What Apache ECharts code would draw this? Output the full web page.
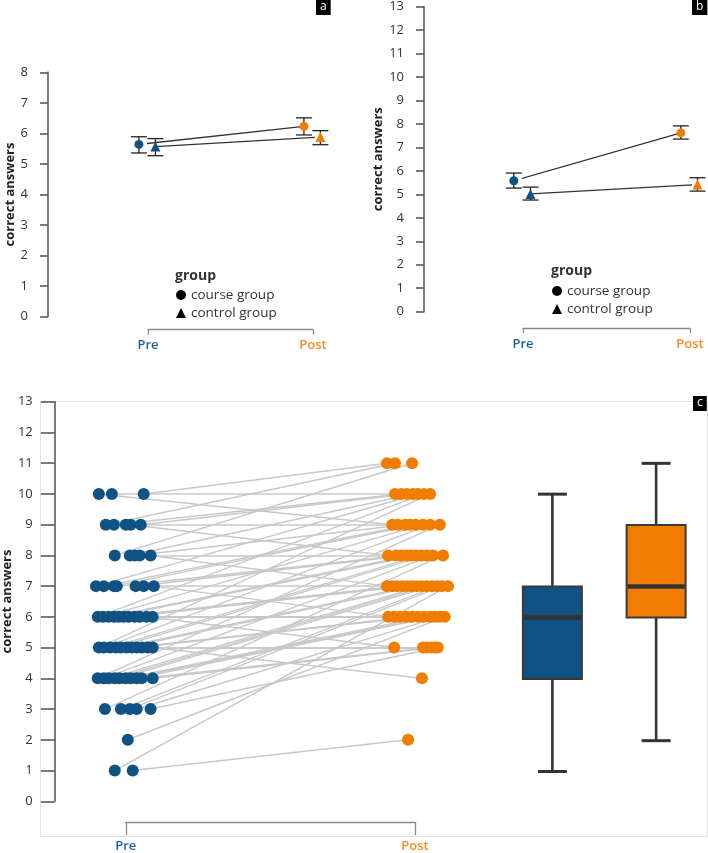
<!DOCTYPE html>
<html><head><meta charset="utf-8">
<script src="https://cdn.jsdelivr.net/npm/echarts@6/dist/echarts.min.js"></script>
<style>html,body{margin:0;padding:0;background:#fff}#c{width:708px;height:853px}</style>
</head><body><div id="c"></div>
<script>
const timepoints = ['Pre', 'Post'];
const groups = ['course group', 'control group'];
const yTitle = 'correct answers';

// Panel a: means with error bars
const aCourseMean = [5.64, 6.23];
const aCourseLow = [5.36, 5.95];
const aCourseHigh = [5.89, 6.51];
const aControlMean = [5.57, 5.88];
const aControlLow = [5.27, 5.63];
const aControlHigh = [5.83, 6.09];

// Panel b: means with error bars
const bCourseMean = [5.58, 7.62];
const bCourseLow = [5.27, 7.36];
const bCourseHigh = [5.91, 7.92];
const bControlMean = [5.02, 5.42];
const bControlLow = [4.76, 5.14];
const bControlHigh = [5.31, 5.71];

// Panel c: individual scores (pre -> post) with horizontal jitter
const preScore = [10,10,10, 9,9,9,9,9, 8,8,8,8,8, 7,7,7,7,7,7,7,
  6,6,6,6,6,6,6,6,6,6,6, 5,5,5,5,5,5,5,5,5,5,5, 4,4,4,4,4,4,4,4,4,4,
  3,3,3,3,3, 2, 1,1];
const postScore = [11,10,9, 11,10,9,8,10, 11,10,9,8,7, 10,9,9,8,8,7,6,
  10,9,8,8,7,7,7,6,6,5,6, 10,9,8,8,7,7,6,6,5,5,4, 9,8,7,7,7,6,6,6,5,5,
  8,7,7,6,5, 6, 7,2];
const preJitter = [0.062,-0.048,-0.093, -0.069,-0.041,0,0.017,0.052, -0.038,0.014,0.031,0.048,0.086,
  -0.103,-0.076,-0.041,-0.031,0.034,0.062,0.097,
  -0.097,-0.079,-0.059,-0.041,-0.024,-0.007,0.010,0.031,0.048,0.072,0.093,
  -0.093,-0.076,-0.055,-0.034,-0.017,0.003,0.021,0.038,0.055,0.076,0.093,
  -0.097,-0.076,-0.059,-0.038,-0.021,0,0.017,0.038,0.055,0.093,
  -0.072,-0.017,0.014,0.038,0.086, 0.007, -0.038,0.024];
const postJitter = [-0.097,-0.069,-0.079, -0.069,-0.048,-0.059,-0.093,-0.028, -0.010,-0.007,-0.034,-0.066,-0.097,
  0.010,-0.017,0.003,-0.048,-0.031,-0.079,-0.093,
  0.031,0.028,-0.014,0.003,-0.062,-0.045,-0.028,-0.072,-0.052,-0.072,-0.031,
  0.052,0.052,0.021,0.041,-0.010,0.007,-0.010,0.010,0.028,0.041,0.024,
  0.086,0.062,0.024,0.041,0.059,0.031,0.052,0.069,0.055,0.069,
  0.097,0.076,0.093,0.086,0.079, 0.103, 0.114,-0.024];

// Panel c boxplots: [min, Q1, median, Q3, max]
const boxPre = [1, 4, 6, 7, 10];
const boxPost = [2, 6, 7, 9, 11];

const BLUE = '#0f5384';
const ORANGE = '#f07d00';
const tpColor = [BLUE, ORANGE];
const FONT = 'Open Sans';
const dodge = [-0.055, 0.045];

const chart = echarts.init(document.getElementById('c'), null, {renderer: 'canvas'});

function xAxisFor(gi, offset, tickLen, margin) {
  return {
    type: 'value', gridIndex: gi, min: 0, max: 1, interval: 1, position: 'bottom', offset: offset,
    axisLine: {show: true, onZero: false, lineStyle: {color: '#8a8a8a', width: 1.3}},
    axisTick: {show: true, length: tickLen, lineStyle: {color: '#8a8a8a', width: 1.3}},
    splitLine: {show: false},
    axisLabel: {
      margin: margin, fontFamily: FONT, fontSize: 13,
      formatter: v => (v === 0 ? '{pre|' + timepoints[0] + '}' : '{post|' + timepoints[1] + '}'),
      rich: {
        pre: {color: '#1d5f96', fontWeight: 600, fontSize: 13, fontFamily: FONT},
        post: {color: '#f58a1f', fontWeight: 600, fontSize: 13, fontFamily: FONT}
      }
    }
  };
}
function yAxisFor(gi, max, offset, tickLen, margin, nameGap) {
  return {
    type: 'value', gridIndex: gi, min: 0, max: max, interval: 1, offset: offset, position: 'left',
    name: yTitle, nameLocation: 'middle', nameGap: nameGap,
    nameTextStyle: {fontFamily: FONT, fontSize: 13, fontWeight: 'bold', color: '#222'},
    axisLine: {show: true, onZero: false, lineStyle: {color: '#5a5a5a', width: 1.6}},
    axisTick: {show: true, length: tickLen, lineStyle: {color: '#5a5a5a', width: 1.6}},
    splitLine: {show: false},
    axisLabel: {margin: margin, fontFamily: FONT, fontSize: 13, color: '#333'}
  };
}

function errorSeries(gi, low, high, dx) {
  return {
    type: 'custom', xAxisIndex: gi, yAxisIndex: gi, z: 2, silent: true,
    data: timepoints.map((t, i) => [i + dx, low[i], high[i]]),
    renderItem: function (params, api) {
      const x = api.value(0);
      const pl = api.coord([x, api.value(1)]);
      const ph = api.coord([x, api.value(2)]);
      const hw = 8;
      const st = {stroke: '#222', lineWidth: 1.3};
      return {type: 'group', children: [
        {type: 'line', shape: {x1: pl[0], y1: pl[1], x2: ph[0], y2: ph[1]}, style: st},
        {type: 'line', shape: {x1: pl[0] - hw, y1: pl[1], x2: pl[0] + hw, y2: pl[1]}, style: st},
        {type: 'line', shape: {x1: ph[0] - hw, y1: ph[1], x2: ph[0] + hw, y2: ph[1]}, style: st}
      ]};
    }
  };
}
function meanSeries(gi, name, mean, dx, symbol, size) {
  return {
    type: 'line', name: name, xAxisIndex: gi, yAxisIndex: gi, z: 3, clip: false,
    symbol: symbol, symbolSize: size, showSymbol: true,
    itemStyle: {color: '#000'},
    lineStyle: {color: '#333', width: 1.3},
    data: timepoints.map((t, i) => ({value: [i + dx, mean[i]], itemStyle: {color: tpColor[i]}}))
  };
}

function legendFor(left, top) {
  return {
    left: left, top: top, orient: 'vertical', itemWidth: 10, itemHeight: 10, itemGap: 4,
    selectedMode: false, padding: 0,
    textStyle: {fontFamily: FONT, fontSize: 13.5, color: '#333'},
    data: [{name: groups[0], icon: 'circle'}, {name: groups[1], icon: 'triangle'}]
  };
}
function panelLabel(t, left, top) {
  return {text: t, left: left, top: top, padding: [1, 4, 2, 4], backgroundColor: '#000',
    textStyle: {color: '#fff', fontSize: 12, fontWeight: 'normal', fontFamily: FONT}};
}

const option = {
  animation: false,
  backgroundColor: '#fff',
  textStyle: {fontFamily: FONT},
  title: [
    {text: 'group', left: 175, top: 269, padding: 0, textStyle: {fontFamily: FONT, fontSize: 14, fontWeight: 'bold', color: '#333'}},
    {text: 'group', left: 551, top: 264, padding: 0, textStyle: {fontFamily: FONT, fontSize: 14, fontWeight: 'bold', color: '#333'}},
    panelLabel('a', 316, 0),
    panelLabel('b', 692, 0),
    panelLabel('c', 693, 396)
  ],
  legend: [legendFor(176, 288), legendFor(552, 284)],
  graphic: [
    {type: 'rect', z: -10, shape: {x: 40.5, y: 401.5, width: 667, height: 435}, style: {fill: null, stroke: '#e3e3e3', lineWidth: 1}}
  ],
  grid: [
    {left: 148, top: 72.3, width: 165, height: 244.4},
    {left: 523, top: 6.7, width: 167, height: 305},
    {left: 125, top: 401.7, width: 290, height: 400.6},
    {left: 500.5, top: 401.7, width: 234, height: 400.6}
  ],
  xAxis: [
    xAxisFor(0, 13, 5, 9),
    xAxisFor(1, 16.5, 5, 10),
    xAxisFor(2, 20.7, 13, 18),
    {type: 'category', gridIndex: 3, data: timepoints, show: false}
  ],
  yAxis: [
    yAxisFor(0, 8, 100, 8, 20, 28),
    yAxisFor(1, 13, 99, 8, 20, 29),
    yAxisFor(2, 13, 71, 14, 22, 36),
    {type: 'value', gridIndex: 3, min: 0, max: 13, show: false}
  ],
  series: [
    errorSeries(0, aCourseLow, aCourseHigh, dodge[0]),
    errorSeries(0, aControlLow, aControlHigh, dodge[1]),
    meanSeries(0, groups[0], aCourseMean, dodge[0], 'circle', 9),
    meanSeries(0, groups[1], aControlMean, dodge[1], 'triangle', 10),
    errorSeries(1, bCourseLow, bCourseHigh, dodge[0]),
    errorSeries(1, bControlLow, bControlHigh, dodge[1]),
    meanSeries(1, groups[0], bCourseMean, dodge[0], 'circle', 9),
    meanSeries(1, groups[1], bControlMean, dodge[1], 'triangle', 10),
    {
      type: 'lines', coordinateSystem: 'cartesian2d', xAxisIndex: 2, yAxisIndex: 2, z: 1, silent: true, clip: false,
      lineStyle: {color: '#c8c8c8', width: 1.5, opacity: 1, curveness: 0},
      data: preScore.map((s, i) => ({coords: [[preJitter[i], s], [1 + postJitter[i], postScore[i]]]}))
    },
    {
      type: 'scatter', xAxisIndex: 2, yAxisIndex: 2, z: 2, clip: false, symbolSize: 12,
      itemStyle: {color: BLUE, opacity: 1},
      data: preScore.map((s, i) => [preJitter[i], s])
    },
    {
      type: 'scatter', xAxisIndex: 2, yAxisIndex: 2, z: 2, clip: false, symbolSize: 12,
      itemStyle: {color: ORANGE, opacity: 1},
      data: postScore.map((s, i) => [1 + postJitter[i], s])
    },
    {
      type: 'custom', xAxisIndex: 3, yAxisIndex: 3, z: 2, silent: true, clip: false,
      data: [[0].concat(boxPre), [1].concat(boxPost)],
      renderItem: function (params, api) {
        const i = api.value(0);
        const pMin = api.coord([i, api.value(1)]);
        const pQ1 = api.coord([i, api.value(2)]);
        const pMed = api.coord([i, api.value(3)]);
        const pQ3 = api.coord([i, api.value(4)]);
        const pMax = api.coord([i, api.value(5)]);
        const cx = pMed[0], bw = 59, cw = 29;
        const st = {stroke: '#333', lineWidth: 2.6};
        return {type: 'group', children: [
          {type: 'line', shape: {x1: cx, y1: pMax[1], x2: cx, y2: pQ3[1]}, style: st},
          {type: 'line', shape: {x1: cx, y1: pQ1[1], x2: cx, y2: pMin[1]}, style: st},
          {type: 'line', shape: {x1: cx - cw / 2, y1: pMax[1], x2: cx + cw / 2, y2: pMax[1]}, style: {stroke: '#333', lineWidth: 3}},
          {type: 'line', shape: {x1: cx - cw / 2, y1: pMin[1], x2: cx + cw / 2, y2: pMin[1]}, style: {stroke: '#333', lineWidth: 3}},
          {type: 'rect', shape: {x: cx - bw / 2, y: pQ3[1], width: bw, height: pQ1[1] - pQ3[1]},
            style: {fill: tpColor[i], stroke: '#3a3a3a', lineWidth: 2}},
          {type: 'line', shape: {x1: cx - bw / 2 + 1, y1: pMed[1], x2: cx + bw / 2 - 1, y2: pMed[1]}, style: {stroke: '#333', lineWidth: 4.5}}
        ]};
      }
    }
  ]
};
chart.setOption(option);
</script>
</body></html>
